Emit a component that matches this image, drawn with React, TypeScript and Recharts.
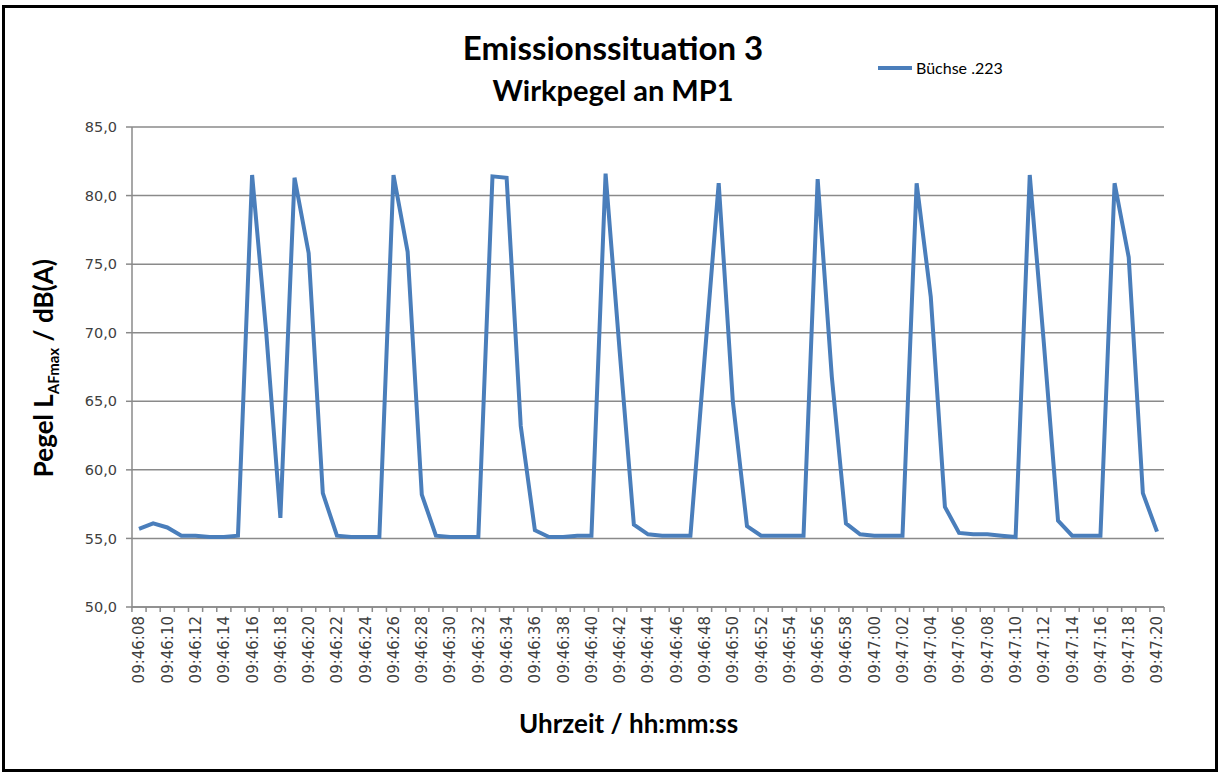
import React from 'react'
import { LineChart, Line, XAxis, YAxis, CartesianGrid, Legend } from 'recharts'

const times = [
  '09:46:08', '09:46:09', '09:46:10', '09:46:11', '09:46:12', '09:46:13', '09:46:14', '09:46:15',
  '09:46:16', '09:46:17', '09:46:18', '09:46:19', '09:46:20', '09:46:21', '09:46:22', '09:46:23',
  '09:46:24', '09:46:25', '09:46:26', '09:46:27', '09:46:28', '09:46:29', '09:46:30', '09:46:31',
  '09:46:32', '09:46:33', '09:46:34', '09:46:35', '09:46:36', '09:46:37', '09:46:38', '09:46:39',
  '09:46:40', '09:46:41', '09:46:42', '09:46:43', '09:46:44', '09:46:45', '09:46:46', '09:46:47',
  '09:46:48', '09:46:49', '09:46:50', '09:46:51', '09:46:52', '09:46:53', '09:46:54', '09:46:55',
  '09:46:56', '09:46:57', '09:46:58', '09:46:59', '09:47:00', '09:47:01', '09:47:02', '09:47:03',
  '09:47:04', '09:47:05', '09:47:06', '09:47:07', '09:47:08', '09:47:09', '09:47:10', '09:47:11',
  '09:47:12', '09:47:13', '09:47:14', '09:47:15', '09:47:16', '09:47:17', '09:47:18', '09:47:19',
  '09:47:20',
]

const buechse223 = [
  55.7, 56.1, 55.8, 55.2, 55.2, 55.1, 55.1, 55.2,
  81.5, 70.0, 56.5, 81.3, 75.8, 58.3, 55.2, 55.1,
  55.1, 55.1, 81.5, 75.9, 58.2, 55.2, 55.1, 55.1,
  55.1, 81.4, 81.3, 63.2, 55.6, 55.1, 55.1, 55.2,
  55.2, 81.6, 68.6, 56.0, 55.3, 55.2, 55.2, 55.2,
  68.1, 80.9, 65.0, 55.9, 55.2, 55.2, 55.2, 55.2,
  81.2, 66.8, 56.1, 55.3, 55.2, 55.2, 55.2, 80.9,
  72.6, 57.3, 55.4, 55.3, 55.3, 55.2, 55.1, 81.5,
  69.2, 56.3, 55.2, 55.2, 55.2, 80.9, 75.5, 58.3,
  55.5,
]

const yTicks = [50, 55, 60, 65, 70, 75, 80, 85]

const seriesName = 'Büchse .223'

const data = times.map((t, i) => ({ time: t, value: buechse223[i] }))

const LINE_COLOR = '#4a7ebb'
const GRID_COLOR = '#8a8a8a'
const TEXT_COLOR = '#404040'
const TITLE_FONT = 'Lato, "Open Sans", sans-serif'
const TICK_FONT = '"DejaVu Sans", Verdana, sans-serif'

// plot area 132..1164 wide, padded half a category at each end
const PLOT_W = 1032
const HALF_STEP = (PLOT_W - 14) / (times.length - 1) / 2
const TICK_SIZE = 5
const TICK_MARGIN = 4

function TimeTick(props: any) {
  const { x, y, payload, index } = props
  const axisY = y - TICK_SIZE - TICK_MARGIN
  const last = index === times.length - 1
  return (
    <g>
      <line x1={x - HALF_STEP} x2={x - HALF_STEP} y1={axisY} y2={axisY + TICK_SIZE} stroke={GRID_COLOR} strokeWidth={1.5} />
      {last && (
        <line x1={x + HALF_STEP} x2={x + HALF_STEP} y1={axisY} y2={axisY + TICK_SIZE} stroke={GRID_COLOR} strokeWidth={1.5} />
      )}
      {index % 2 === 0 && (
        <text
          x={x}
          y={y}
          transform={`rotate(-90, ${x}, ${y})`}
          textAnchor="end"
          dy="0.36em"
          fill={TEXT_COLOR}
          fontSize={15}
          fontFamily={TICK_FONT}
        >
          {payload.value}
        </text>
      )}
    </g>
  )
}

function LegendBox() {
  return (
    <div style={{ display: 'flex', alignItems: 'center', fontFamily: TITLE_FONT, fontSize: 16, color: '#000', whiteSpace: 'nowrap' }}>
      <span style={{ display: 'inline-block', width: 34, height: 4, background: LINE_COLOR, marginRight: 4 }} />
      {seriesName}
    </div>
  )
}

export default function App() {
  return (
    <div style={{ position: 'absolute', left: 0, top: 0, width: 1221, height: 774, background: '#fff' }}>
      <div
        style={{
          position: 'absolute', left: 2, top: 5, width: 1210, height: 761,
          border: '3px solid #000',
        }}
      />
      <div style={{ position: 'absolute', left: 0, top: 27, width: 1226, textAlign: 'center', fontFamily: TITLE_FONT, fontWeight: 700, fontSize: 33, lineHeight: '40px' }}>
        Emissionssituation 3
      </div>
      <div style={{ position: 'absolute', left: 0, top: 73, width: 1226, textAlign: 'center', fontFamily: TITLE_FONT, fontWeight: 700, fontSize: 29, lineHeight: '34px' }}>
        Wirkpegel an MP1
      </div>
      <div style={{ position: 'absolute', left: 0, top: 706, width: 1257, textAlign: 'center', fontFamily: TITLE_FONT, fontWeight: 700, fontSize: 26, lineHeight: '34px' }}>
        Uhrzeit / hh:mm:ss
      </div>
      <div
        style={{
          position: 'absolute', left: 48, top: 363, width: 300, marginLeft: -150, marginTop: -17,
          textAlign: 'center', fontFamily: TITLE_FONT, fontWeight: 700, fontSize: 26, lineHeight: '34px',
          transform: 'rotate(-90deg)', whiteSpace: 'nowrap',
        }}
      >
        Pegel L<sub style={{ fontSize: 15 }}>AFmax</sub> / dB(A)
      </div>
      <LineChart
        width={1221}
        height={774}
        data={data}
        margin={{ top: 127, right: 57, bottom: 77, left: 72 }}
        style={{ position: 'absolute', left: 0, top: 0 }}
      >
        <CartesianGrid vertical={false} stroke={GRID_COLOR} strokeWidth={1.5} />
        <XAxis
          dataKey="time"
          type="category"
          interval={0}
          height={90}
          padding={{ left: 7, right: 7 }}
          axisLine={{ stroke: GRID_COLOR, strokeWidth: 1.5 }}
          tickLine={false}
          tickSize={TICK_SIZE}
          tickMargin={TICK_MARGIN}
          tick={<TimeTick />}
        />
        <YAxis
          width={60}
          domain={[50, 85]}
          ticks={yTicks}
          interval={0}
          allowDataOverflow
          axisLine={{ stroke: GRID_COLOR, strokeWidth: 1.5 }}
          tickLine={{ stroke: GRID_COLOR, strokeWidth: 1.5 }}
          tickSize={6}
          tickMargin={9}
          tickFormatter={(v: number) => v.toFixed(1).replace('.', ',')}
          tick={{ fill: TEXT_COLOR, fontSize: 14.5, fontFamily: TICK_FONT }}
        />
        <Legend
          content={<LegendBox />}
          wrapperStyle={{ position: 'absolute', left: 878, top: 58, width: 160, height: 0, overflow: 'visible' }}
        />
        <Line
          type="linear"
          dataKey="value"
          name={seriesName}
          stroke={LINE_COLOR}
          strokeWidth={4}
          dot={false}
          activeDot={false}
          isAnimationActive={false}
        />
      </LineChart>
    </div>
  )
}
